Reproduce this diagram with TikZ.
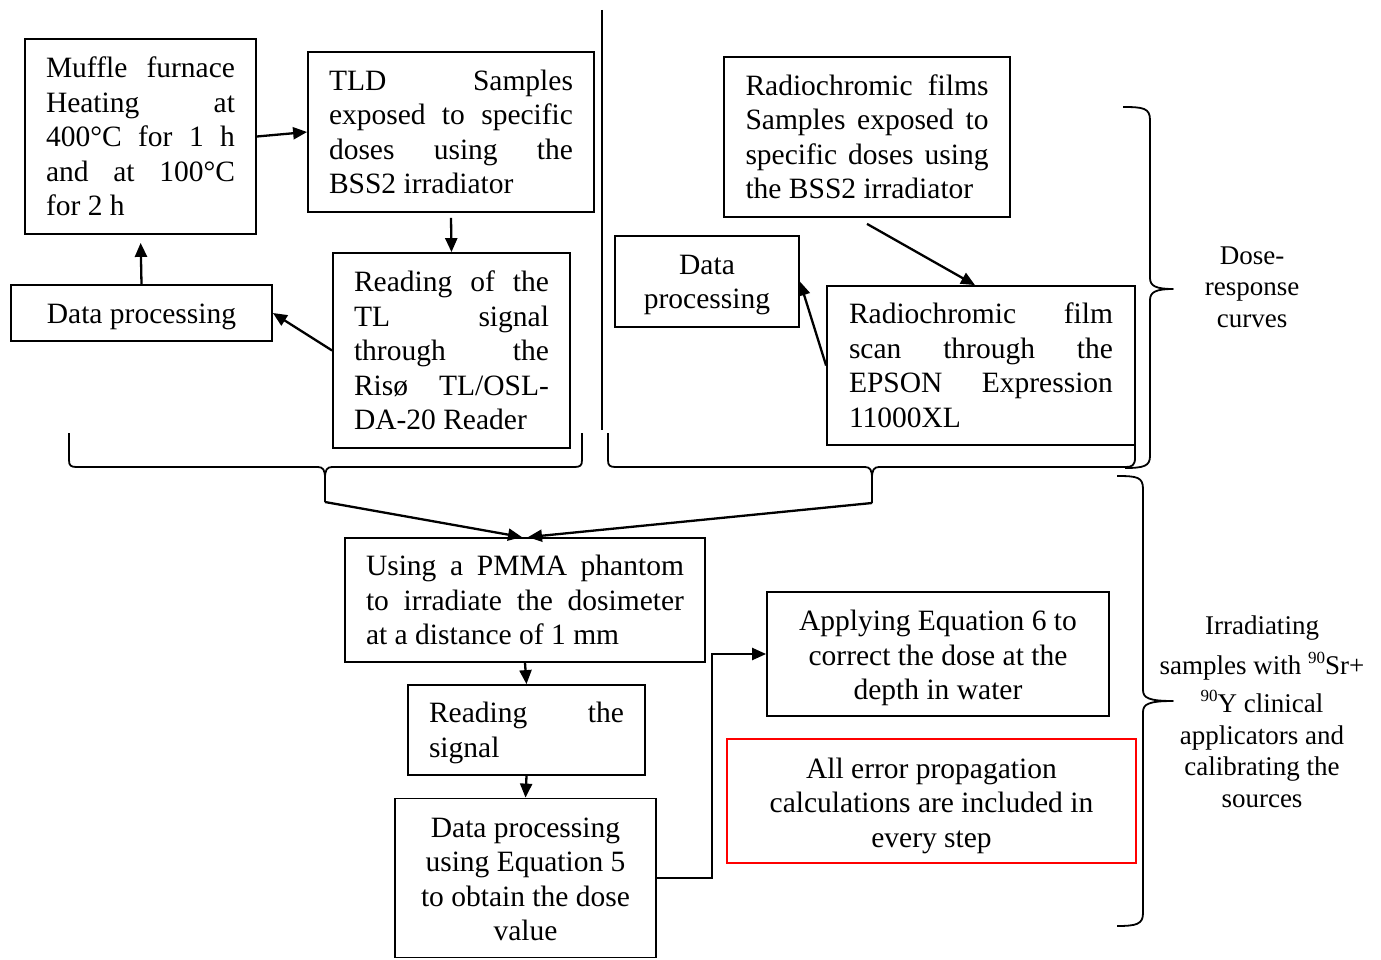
\documentclass[tikz,border=0pt]{standalone}
\usepackage{fontspec}
\setmainfont{Liberation Serif}
\usetikzlibrary{arrows.meta,calc}
% width of the text lines in the current box
\newdimen\jwidth
% a fully justified line, a last line set flush left, and a centred line
\newcommand\jl[1]{\hbox to\jwidth{#1}}
\newcommand\lastl[1]{\hbox to\jwidth{#1\hfil}}
\newcommand\cl[1]{\hbox to\jwidth{\hfil#1\hfil}}
% raised mass number of an isotope
\newcommand\isotope[1]{\raisebox{11pt}{\fontsize{17}{17}\selectfont #1}}
\begin{document}
\begin{tikzpicture}[x=1pt,y=-1pt,
  box/.style={draw, line width=1.8pt, inner sep=0pt, font=\fontsize{29.5}{34.5}\selectfont},
  jbox/.style={box, execute at begin node={\global\jwidth=#1pt\relax}},
  arr/.style={line width=2.3pt, line join=miter, -{Triangle[length=14pt,width=12pt]}},
  bracestyle/.style={line width=1.8pt, line join=round},
  side/.style={font=\fontsize{27}{31.5}\selectfont, align=center, inner sep=0pt}
]
\useasboundingbox (0,0) rectangle (1381,960);

% ---- TLD branch ----
\node[jbox=189, minimum width=231pt, minimum height=195pt] (A) at (140.5,136.5)
  {\vbox{\jl{Muffle furnace}\jl{Heating at}\jl{400°C for 1 h}\jl{and at 100°C}\lastl{for 2 h}}};
\node[jbox=244, minimum width=286pt, minimum height=160pt] (B) at (451,132)
  {\vbox{\jl{TLD Samples}\jl{exposed to specific}\jl{doses using the}\lastl{BSS2 irradiator}}};
\node[jbox=195, minimum width=237pt, minimum height=195pt] (C) at (451.5,350.5)
  {\vbox{\jl{Reading of the}\jl{TL signal}\jl{through the}\jl{Risø TL/OSL-}\lastl{DA-20 Reader}}};
\node[jbox=240, minimum width=261pt, minimum height=56pt] (D) at (141.5,313)
  {\vbox{\kern8pt\cl{Data processing}}};

% ---- radiochromic film branch ----
\node[jbox=243, minimum width=286pt, minimum height=160pt] (E) at (867,137)
  {\vbox{\jl{Radiochromic films}\jl{Samples exposed to}\jl{specific doses using}\lastl{the BSS2 irradiator}}};
\node[jbox=170, minimum width=184pt, minimum height=91pt] (F) at (707,281.5)
  {\vbox{\kern7pt\cl{Data}\cl{processing}}};
\node[jbox=264, minimum width=308pt, minimum height=159pt] (G) at (981,365.5)
  {\vbox{\jl{Radiochromic film}\jl{scan through the}\jl{EPSON Expression}\lastl{11000XL}}};

% ---- clinical applicators ----
\node[jbox=318, minimum width=360pt, minimum height=124pt] (H) at (525,600)
  {\vbox{\jl{Using a PMMA phantom}\jl{to irradiate the dosimeter}\lastl{at a distance of 1 mm}}};
\node[jbox=195, minimum width=237pt, minimum height=90pt] (I) at (526.5,730)
  {\vbox{\kern6pt\jl{Reading the}\lastl{signal}}};
\node[jbox=245, minimum width=261pt, minimum height=159pt] (J) at (525.5,878)
  {\vbox{\kern3pt\cl{Data processing}\cl{using Equation 5}\cl{to obtain the dose}\cl{value}}};
\node[jbox=330, minimum width=342pt, minimum height=124pt] (K) at (938,654)
  {\vbox{\kern8pt\cl{Applying Equation 6 to}\cl{correct the dose at the}\cl{depth in water}}};
\node[jbox=395, minimum width=409pt, minimum height=124pt, draw=red] (L) at (931.5,801)
  {\vbox{\kern9pt\cl{All error propagation}\cl{calculations are included in}\cl{every step}}};

% ---- side labels ----
\node[side] (dr) at (1252,287) {Dose-\\response\\curves};
\node[side] (irr) at (1262,712)
  {Irradiating\\[8pt]samples with \isotope{90}Sr+\\[7pt]\isotope{90}Y clinical\\applicators and\\calibrating the\\sources};

% ---- separator ----
\draw[line width=1.5pt] (602,10) -- (602,430);

% ---- braces ----
\coordinate (tipL) at (325,502);
\coordinate (tipR) at (872,503);
\draw[bracestyle] (69,433) -- (69,460) .. controls (69,466) and (71,467) .. (77,467)
  -- (318,467) .. controls (323,467) and (325,470) .. (325,478) -- (tipL);
\draw[bracestyle] (582,433) -- (582,460) .. controls (582,466) and (580,467) .. (574,467)
  -- (332,467) .. controls (327,467) and (325,470) .. (325,478);
\draw[bracestyle] (608,433) -- (608,460) .. controls (608,466) and (610,467) .. (616,467)
  -- (865,467) .. controls (870,467) and (872,470) .. (872,478) -- (tipR);
\draw[bracestyle] (1135,443) -- (1135,458) .. controls (1135,465) and (1132,467) .. (1126,467)
  -- (879,467) .. controls (874,467) and (872,470) .. (872,478);

\draw[bracestyle] (1123,107) .. controls (1143,107) and (1150,108) .. (1150,120)
  -- (1150,278) .. controls (1150,286) and (1156,289) .. (1173,289)
  .. controls (1156,289) and (1150,292) .. (1150,300)
  -- (1150,456) .. controls (1150,466) and (1144,468) .. (1125,468);
\draw[bracestyle] (1117,476) .. controls (1137,476) and (1143,477) .. (1143,489)
  -- (1143,690) .. controls (1143,698) and (1149,701) .. (1173,701)
  .. controls (1149,701) and (1143,704) .. (1143,712)
  -- (1143,913) .. controls (1143,924) and (1137,926) .. (1117,926);

% ---- connectors ----
\draw[arr] (A.east) -- (B.west);
\draw[arr] ($(B.south)+(0,5)$) -- (C.north);
\draw[arr] (C.west) -- (D.east);
\draw[arr, shorten >=8pt] (D.north) -- (A.south);
\draw[arr] ($(E.south)+(0,6)$) -- ($(G.north)+(-6,0)$);
\draw[arr] (G.west) -- (F.east);
\draw[arr] (tipL) -- ($(H.north)+(-3,0)$);
\draw[arr] (tipR) -- ($(H.north)+(3,0)$);
\draw[arr] (H.south) -- (I.north);
\draw[arr] (I.south) -- (J.north);
\draw[arr] (J.east) -- ++(55,0) |- (K.west);
\end{tikzpicture}
\end{document}
